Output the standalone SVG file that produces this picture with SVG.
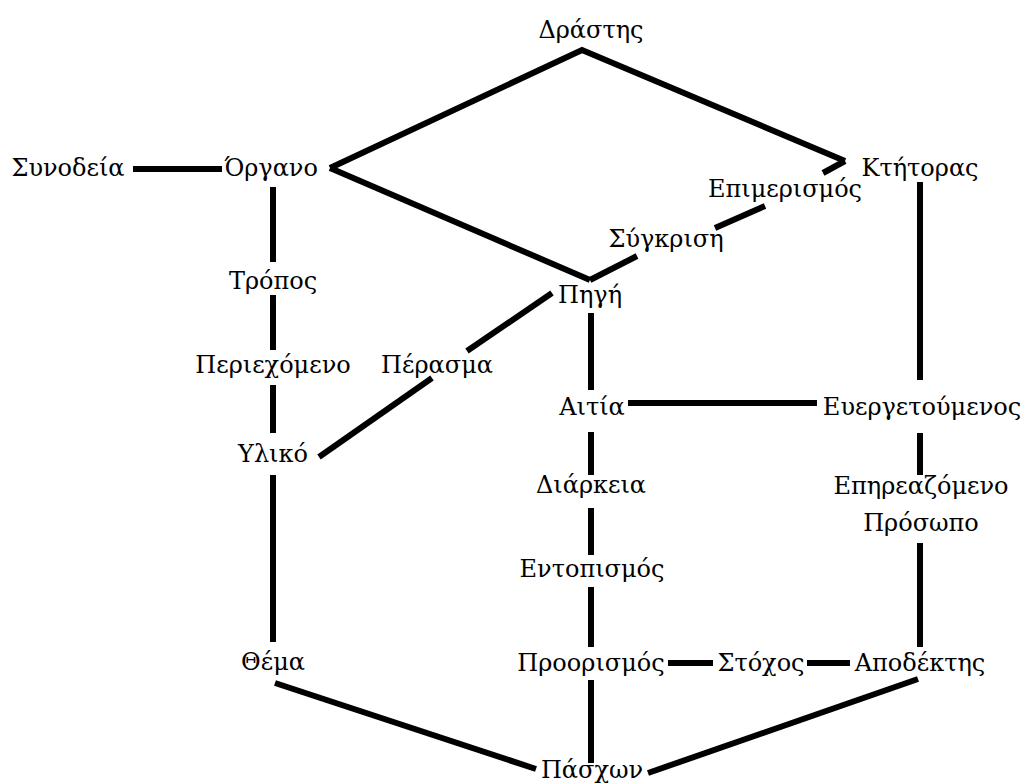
<svg xmlns="http://www.w3.org/2000/svg" width="1025" height="783" viewBox="0 0 1025 783">
  <style>
    text { font-family: "DejaVu Serif", "Liberation Serif", serif; font-size: 24px; fill: #000; text-anchor: middle; }
    .edge { fill: none; stroke: #000; stroke-width: 6; stroke-linecap: butt; stroke-linejoin: miter; }
  </style>
  <rect width="1025" height="783" fill="#fff"/>

  <g id="connectors">
    <!-- Δράστης diamond -->
    <polyline class="edge" points="330,168 582,50 845,161"/>
    <line class="edge" x1="330" y1="168" x2="590" y2="280"/>
    <!-- Πηγή – Σύγκριση – Επιμερισμός – Κτήτορας -->
    <polyline class="edge" points="590,280 637,256"/>
    <line class="edge" x1="715" y1="228" x2="765" y2="206"/>
    <polyline class="edge" points="823,173 845,161"/>
    <!-- Συνοδεία – Όργανο -->
    <line class="edge" x1="133" y1="169" x2="222" y2="169"/>
    <!-- left column -->
    <line class="edge" x1="273" y1="187" x2="273" y2="262"/>
    <line class="edge" x1="273" y1="295" x2="273" y2="350"/>
    <line class="edge" x1="273" y1="385" x2="273" y2="433"/>
    <line class="edge" x1="273" y1="475" x2="273" y2="642"/>
    <!-- Πηγή – Πέρασμα – Υλικό -->
    <line class="edge" x1="552" y1="293" x2="467" y2="351"/>
    <line class="edge" x1="432" y1="378" x2="319" y2="457"/>
    <!-- middle column -->
    <line class="edge" x1="591" y1="313" x2="591" y2="390"/>
    <line class="edge" x1="591" y1="432" x2="591" y2="475"/>
    <line class="edge" x1="591" y1="508" x2="591" y2="555"/>
    <line class="edge" x1="591" y1="587" x2="591" y2="647"/>
    <line class="edge" x1="591" y1="680" x2="591" y2="763"/>
    <!-- Αιτία – Ευεργετούμενος -->
    <line class="edge" x1="628" y1="403" x2="817" y2="403"/>
    <!-- right column -->
    <line class="edge" x1="920" y1="182" x2="920" y2="380"/>
    <line class="edge" x1="920" y1="433" x2="920" y2="475"/>
    <line class="edge" x1="920" y1="543" x2="920" y2="647"/>
    <!-- Προορισμός – Στόχος – Αποδέκτης -->
    <line class="edge" x1="668" y1="663" x2="713" y2="663"/>
    <line class="edge" x1="807" y1="663" x2="850" y2="663"/>
    <!-- bottom -->
    <line class="edge" x1="275" y1="683" x2="536" y2="769"/>
    <line class="edge" x1="648" y1="773" x2="918" y2="679"/>
  </g>

  <g id="drastis"><text x="591" y="38">Δράστης</text></g>
  <g id="synodeia"><text x="68" y="176">Συνοδεία</text></g>
  <g id="organo"><text x="271" y="176">Όργανο</text></g>
  <g id="ktitoras"><text x="920" y="176">Κτήτορας</text></g>
  <g id="epimerismos"><text x="785" y="197">Επιμερισμός</text></g>
  <g id="sygkrisi"><text x="666" y="247">Σύγκριση</text></g>
  <g id="pigi"><text x="590" y="303">Πηγή</text></g>
  <g id="tropos"><text x="273" y="289">Τρόπος</text></g>
  <g id="periexomeno"><text x="273" y="373">Περιεχόμενο</text></g>
  <g id="perasma"><text x="437" y="373">Πέρασμα</text></g>
  <g id="aitia"><text x="592" y="415">Αιτία</text></g>
  <g id="evergetoumenos"><text x="922" y="415">Ευεργετούμενος</text></g>
  <g id="yliko"><text x="273" y="462">Υλικό</text></g>
  <g id="diarkeia"><text x="591" y="493">Διάρκεια</text></g>
  <g id="epireazomeno-prosopo">
    <text x="921" y="494">Επηρεαζόμενο</text>
    <text x="921" y="531">Πρόσωπο</text>
  </g>
  <g id="entopismos"><text x="592" y="577">Εντοπισμός</text></g>
  <g id="thema"><text x="273" y="670">Θέμα</text></g>
  <g id="proorismos"><text x="591" y="671">Προορισμός</text></g>
  <g id="stoxos"><text x="761" y="671">Στόχος</text></g>
  <g id="apodektis"><text x="920" y="671">Αποδέκτης</text></g>
  <g id="pasxon"><text x="592" y="778">Πάσχων</text></g>
</svg>
